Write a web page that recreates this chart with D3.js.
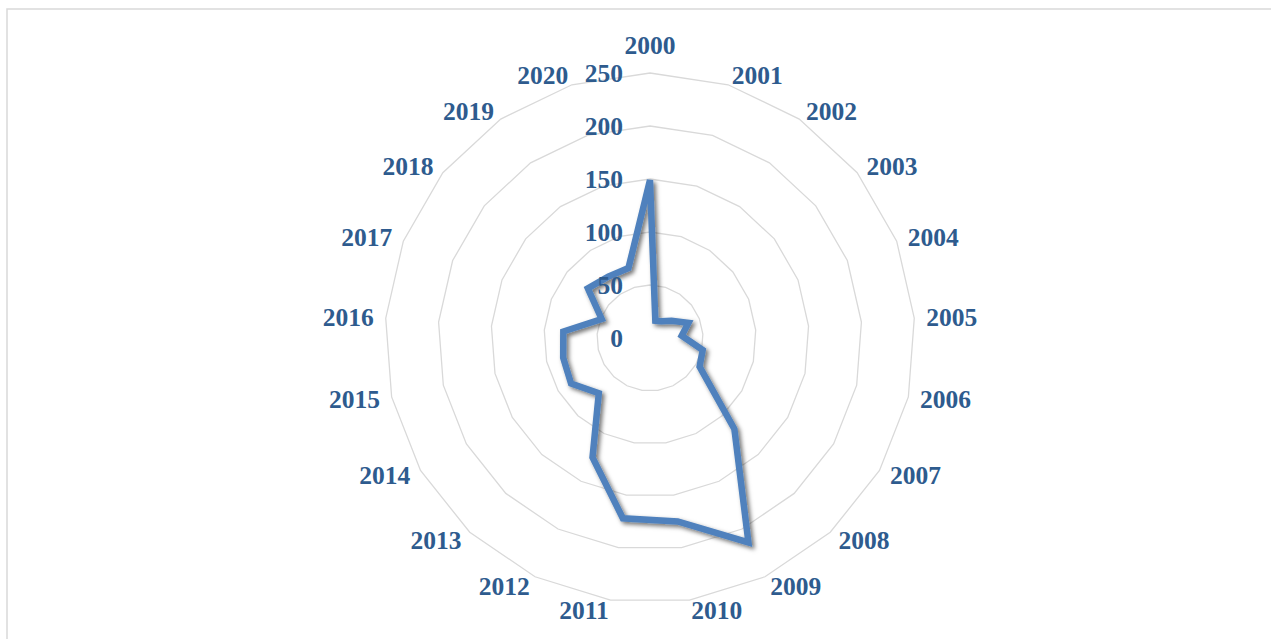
<!DOCTYPE html>
<html>
<head>
<meta charset="utf-8">
<script src="https://cdn.jsdelivr.net/npm/d3@7"></script>
<style>
  html, body { margin: 0; padding: 0; background: #ffffff; }
  svg { display: block; }
</style>
</head>
<body>
<svg id="chart" width="1271" height="639"></svg>
<script>
const categories = ["2000","2001","2002","2003","2004","2005","2006","2007","2008","2009","2010",
                    "2011","2012","2013","2014","2015","2016","2017","2018","2019","2020"];
const values = [149, 17, 19, 26, 39, 30, 51, 54, 117, 214, 175, 172, 125, 71, 86, 84, 82, 49, 75, 70, 69];
const tickValues = [0, 50, 100, 150, 200, 250];

const width = 1271, height = 639;
const cx = 650, cy = 338, R = 265;
const svg = d3.select("#chart");

// frame
svg.append("path")
  .attr("d", `M7,${height} L7,9 L${width},9`)
  .attr("fill", "none").attr("stroke", "#d9d9d9").attr("stroke-width", 1.5);

const r = d3.scaleLinear().domain([0, 250]).range([0, R]);
const angle = d3.scalePoint().domain(categories).range([0, 2 * Math.PI * (categories.length) / categories.length]).padding(0);
const step = 2 * Math.PI / categories.length;
const ang = (i) => i * step;

const g = svg.append("g").attr("transform", `translate(${cx},${cy})`);

// shadow filter
const defs = svg.append("defs");
const f = defs.append("filter").attr("id", "sh").attr("x", "-20%").attr("y", "-20%").attr("width", "140%").attr("height", "140%");
f.append("feDropShadow").attr("dx", 2.5).attr("dy", 2.5).attr("stdDeviation", 2.2)
  .attr("flood-color", "#000").attr("flood-opacity", 0.55);

// grid polygons
const gridLine = d3.lineRadial()
  .angle((d, i) => ang(i))
  .radius(d => r(d))
  .curve(d3.curveLinearClosed);
tickValues.filter(t => t > 0).forEach(t => {
  g.append("path")
    .attr("d", gridLine(categories.map(() => t)))
    .attr("fill", "none")
    .attr("stroke", "#d9d9d9")
    .attr("stroke-width", 1.3);
});

// data line
const dataLine = d3.lineRadial()
  .angle((d, i) => ang(i))
  .radius(d => r(d))
  .curve(d3.curveLinearClosed);
g.append("path")
  .attr("d", dataLine(values))
  .attr("fill", "none")
  .attr("stroke", "#4f81bd")
  .attr("stroke-width", 6.5)
  .attr("stroke-linejoin", "miter")
  .attr("filter", "url(#sh)");

const textColor = "#2e5b8e";
const font = "'Liberation Serif', 'Times New Roman', serif";

// value axis labels
tickValues.forEach(t => {
  g.append("text")
    .attr("x", -27)
    .attr("y", -r(t))
    .attr("dy", "0.35em")
    .attr("text-anchor", "end")
    .attr("font-family", font)
    .attr("font-weight", "bold")
    .attr("font-size", 25.5)
    .attr("fill", textColor)
    .text(t);
});

// category labels
categories.forEach((c, i) => {
  const a = ang(i);
  const s = Math.sin(a), co = Math.cos(a);
  const px = R * s, py = -R * co;
  const t = g.append("text")
    .attr("font-family", font)
    .attr("font-weight", "bold")
    .attr("font-size", 25.5)
    .attr("fill", textColor)
    .attr("text-anchor", "middle")
    .attr("dy", "0.35em")
    .text(c);
  const w = t.node().getComputedTextLength();
  const sign = Math.abs(s) < 0.01 ? 0 : Math.sign(s);
  const x = px + s * 12 + sign * w / 2;
  const y = py - co * 10 - (sign === 0 ? 18 * Math.sign(co) : 0);
  t.attr("x", x).attr("y", y);
});
</script>
</body>
</html>
